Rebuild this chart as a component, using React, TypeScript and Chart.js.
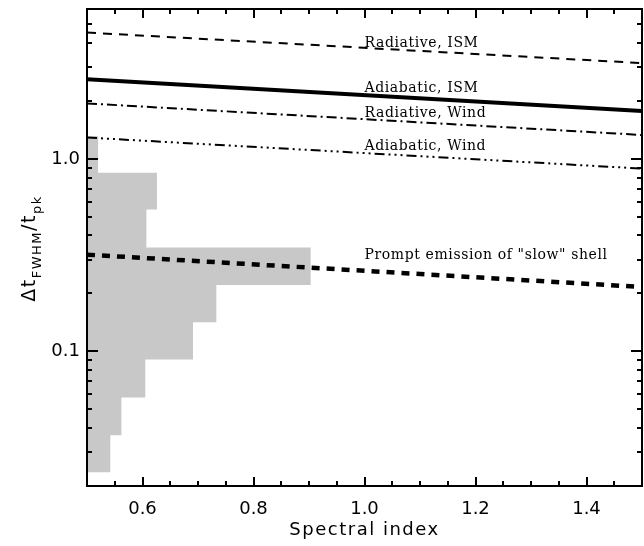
import React, { useEffect, useRef } from "react";
import { Chart, registerables } from "chart.js";

Chart.register(...registerables);

// ---- axis ranges ----
const xMin = 0.5;
const xMax = 1.5;
const yMin = 0.02;
const yMax = 6;

// ---- model curves (x = spectral index) ----
const lineX = [0.5, 1.5];
const radiativeISM = [4.53, 3.14];
const adiabaticISM = [2.59, 1.77];
const radiativeWind = [1.94, 1.33];
const adiabaticWind = [1.29, 0.89];
const promptSlow = [0.318, 0.216];

// ---- histogram (horizontal, bars grow from x = 0.5) ----
const histEdges = [1.31, 0.846, 0.545, 0.346, 0.2215, 0.1416, 0.0908, 0.0576, 0.0367, 0.0236];
const histRight = [0.52, 0.626, 0.607, 0.903, 0.733, 0.691, 0.605, 0.562, 0.542];

// ---- ticks ----
const xTicks = [0.55, 0.6, 0.65, 0.7, 0.75, 0.8, 0.85, 0.9, 0.95, 1.0, 1.05, 1.1, 1.15, 1.2, 1.25, 1.3, 1.35, 1.4, 1.45];
const xLabelValues = [0.6, 0.8, 1.0, 1.2, 1.4];
const xLabelTexts = ["0.6", "0.8", "1.0", "1.2", "1.4"];
const yTicks = [0.03, 0.04, 0.05, 0.06, 0.07, 0.08, 0.09, 0.1, 0.2, 0.3, 0.4, 0.5, 0.6, 0.7, 0.8, 0.9, 1, 2, 3, 4, 5];
const yLabelValues = [0.1, 1];
const yLabelTexts = ["0.1", "1.0"];

// ---- annotations (left edge at x, baseline at y) ----
const noteTexts = ["Radiative, ISM", "Adiabatic, ISM", "Radiative, Wind", "Adiabatic, Wind", "Prompt emission of \"slow\" shell"];
const noteX = [1.0, 1.0, 1.0, 1.0, 1.0];
const noteY = [3.83, 2.22, 1.655, 1.109, 0.301];

const xTitle = "Spectral index";

const SANS = '"DejaVu Sans"';
const SERIF = '"DejaVu Serif"';

function pts(ys: number[]) {
  return lineX.map((x, i) => ({ x, y: ys[i] }));
}

// outline of the horizontal histogram, traced as one closed shape
function histOutline() {
  const out: { x: number; y: number }[] = [{ x: xMin, y: histEdges[0] }];
  histRight.forEach((r, i) => {
    out.push({ x: r, y: histEdges[i] });
    out.push({ x: r, y: histEdges[i + 1] });
  });
  out.push({ x: xMin, y: histEdges[histEdges.length - 1] });
  return out;
}

const overlay = {
  id: "overlay",
  afterDraw(chart: any) {
    const { ctx, chartArea: a, scales } = chart;
    const xs = scales.x;
    const ys = scales.y;
    ctx.save();
    ctx.strokeStyle = "#000";
    ctx.fillStyle = "#000";
    ctx.lineWidth = 2;
    ctx.beginPath();
    xTicks.forEach((v) => {
      const px = Math.round(xs.getPixelForValue(v));
      const major = xLabelValues.some((m) => Math.abs(m - v) < 1e-9);
      const len = major ? 9 : 5;
      ctx.moveTo(px, a.bottom);
      ctx.lineTo(px, a.bottom - len);
      ctx.moveTo(px, a.top);
      ctx.lineTo(px, a.top + len);
    });
    yTicks.forEach((v) => {
      const py = Math.round(ys.getPixelForValue(v));
      const major = yLabelValues.some((m) => Math.abs(m - v) < 1e-9);
      const len = major ? 11 : 5;
      ctx.moveTo(a.left, py);
      ctx.lineTo(a.left + len, py);
      ctx.moveTo(a.right, py);
      ctx.lineTo(a.right - len, py);
    });
    ctx.stroke();
    ctx.strokeRect(a.left, a.top, a.right - a.left, a.bottom - a.top);

    // tick labels
    ctx.font = `18px ${SANS}`;
    ctx.textAlign = "center";
    ctx.textBaseline = "middle";
    xLabelValues.forEach((v, i) => {
      ctx.fillText(xLabelTexts[i], xs.getPixelForValue(v), 509);
    });
    ctx.textAlign = "right";
    yLabelValues.forEach((v, i) => {
      ctx.fillText(yLabelTexts[i], a.left - 7, ys.getPixelForValue(v));
    });

    // x title
    ctx.textAlign = "center";
    ctx.textBaseline = "alphabetic";
    (ctx as any).letterSpacing = "1.5px";
    ctx.fillText(xTitle, (a.left + a.right) / 2, 535);

    // y title with subscripts
    const segs = [
      { t: "\u0394t", sub: false },
      { t: "FWHM", sub: true },
      { t: "/t", sub: false },
      { t: "pk", sub: true },
    ];
    (ctx as any).letterSpacing = "1.5px";
    const fontFor = (s: boolean) => (s ? `13px ${SANS}` : `19px ${SANS}`);
    let total = 0;
    const widths = segs.map((s) => {
      ctx.font = fontFor(s.sub);
      const w = ctx.measureText(s.t).width;
      total += w;
      return w;
    });
    ctx.save();
    ctx.translate(35, (a.top + a.bottom) / 2 + 1);
    ctx.rotate(-Math.PI / 2);
    ctx.textAlign = "left";
    let cx = -total / 2;
    segs.forEach((s, i) => {
      ctx.font = fontFor(s.sub);
      ctx.fillText(s.t, cx, s.sub ? 6 : 0);
      cx += widths[i];
    });
    ctx.restore();

    // annotations
    ctx.font = `14px ${SERIF}`;
    (ctx as any).letterSpacing = "0.6px";
    ctx.textAlign = "left";
    ctx.textBaseline = "alphabetic";
    noteTexts.forEach((t, i) => {
      ctx.fillText(t, xs.getPixelForValue(noteX[i]), ys.getPixelForValue(noteY[i]));
    });
    ctx.restore();
  },
};

export default function App() {
  const ref = useRef<HTMLCanvasElement | null>(null);
  useEffect(() => {
    if (!ref.current) return;
    const histSet = {
      data: histOutline(),
      fill: "shape",
      backgroundColor: "#c8c8c8",
      borderWidth: 0,
      borderColor: "rgba(0,0,0,0)",
      pointRadius: 0,
      tension: 0,
      order: 5,
    };
    const lineSet = (ys: number[], width: number, dash: number[]) => ({
      data: pts(ys),
      borderColor: "#000",
      borderWidth: width,
      borderDash: dash,
      fill: false,
      pointRadius: 0,
      tension: 0,
      order: 1,
    });
    const chart = new Chart(ref.current, {
      type: "line",
      data: {
        datasets: [
          lineSet(radiativeISM, 2, [9, 7]),
          lineSet(adiabaticISM, 4, []),
          lineSet(radiativeWind, 2, [10, 4, 2, 4]),
          lineSet(adiabaticWind, 2, [10, 4, 2, 4, 2, 4, 2, 4]),
          lineSet(promptSlow, 4.5, [8, 7]),
          histSet,
        ] as any,
      },
      options: {
        responsive: false,
        animation: false,
        events: [],
        layout: { padding: { top: 9, right: 2, left: 0, bottom: 0 } },
        plugins: { legend: { display: false }, tooltip: { enabled: false } },
        scales: {
          x: {
            type: "linear",
            min: xMin,
            max: xMax,
            ticks: { display: false },
            grid: { display: false, drawTicks: false },
            border: { display: false },
            afterFit: (s: any) => {
              s.height = 60;
            },
          },
          y: {
            type: "logarithmic",
            min: yMin,
            max: yMax,
            ticks: { display: false },
            grid: { display: false, drawTicks: false },
            border: { display: false },
            afterFit: (s: any) => {
              s.width = 87;
            },
          },
        },
      } as any,
      plugins: [overlay],
    });
    return () => chart.destroy();
  }, []);
  return (
    <div style={{ position: "absolute", left: 0, top: 0, width: 644, height: 546, background: "#fff" }}>
      <canvas ref={ref} width={644} height={546} style={{ display: "block" }} />
    </div>
  );
}
